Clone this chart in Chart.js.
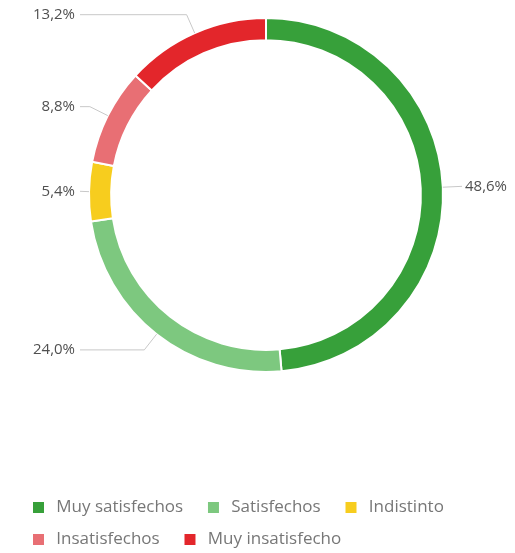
<!DOCTYPE html>
<html>
<head>
  <meta charset="utf-8" />
  <title>Satisfacción</title>
  <script src="https://cdn.jsdelivr.net/npm/chart.js@4.4.1/dist/chart.umd.min.js"></script>
  <style>
    html, body { margin: 0; padding: 0; background: #fff; }
    #wrap { width: 515px; height: 553px; }
  </style>
</head>
<body>
  <div id="wrap"><canvas id="chart"></canvas></div>
  <script>
    // data
    var categories = ["Muy satisfechos", "Satisfechos", "Indistinto", "Insatisfechos", "Muy insatisfecho"];
    var percents = [48.6, 24.0, 5.4, 8.8, 13.2];
    var colors = ["#37a03a", "#7dc87f", "#f7cd1e", "#e86f74", "#e3262b"];

    // leader lines + percent labels around the ring
    var pctLabels = {
      id: 'pctLabels',
      afterDatasetsDraw: function(chart) {
        var ctx = chart.ctx;
        var meta = chart.getDatasetMeta(0);
        var leftCol = 80, rightCol = 462;
        ctx.save();
        ctx.font = '15px "Open Sans"';
        ctx.fillStyle = '#505050';
        ctx.strokeStyle = '#c8c8c8';
        ctx.lineWidth = 1;
        ctx.textBaseline = 'middle';
        meta.data.forEach(function(arc, i) {
          var p = arc.getProps(['x', 'y', 'startAngle', 'endAngle', 'outerRadius'], true);
          var mid = (p.startAngle + p.endAngle) / 2;
          var px = p.x + Math.cos(mid) * p.outerRadius;
          var py = p.y + Math.sin(mid) * p.outerRadius;
          var ex = p.x + Math.cos(mid) * (p.outerRadius + 20);
          var ey = p.y + Math.sin(mid) * (p.outerRadius + 20);
          var right = Math.cos(mid) >= 0;
          var col = right ? rightCol : leftCol;
          ctx.beginPath();
          ctx.moveTo(px, py);
          if ((right && ex < col) || (!right && ex > col)) {
            ctx.lineTo(ex, ey);
          }
          ctx.lineTo(col, ey);
          ctx.stroke();
          var txt = percents[i].toFixed(1).replace('.', ',') + '%';
          ctx.textAlign = right ? 'left' : 'right';
          ctx.fillText(txt, right ? col + 3 : col - 5, ey);
        });
        ctx.restore();
      }
    };

    new Chart(document.getElementById('chart'), {
      type: 'doughnut',
      data: {
        labels: categories,
        datasets: [{
          data: percents,
          backgroundColor: colors,
          borderColor: '#fff',
          borderWidth: 2
        }]
      },
      options: {
        responsive: true,
        maintainAspectRatio: false,
        animation: false,
        radius: 177,
        cutout: '87.5%',
        layout: { padding: { top: 0, bottom: -5, left: 17, right: 0 } },
        plugins: {
          tooltip: { enabled: false },
          legend: {
            position: 'bottom',
            align: 'start',
            // empty title used as a spacer between ring and legend
            title: { display: true, text: '', font: { size: 10 }, padding: { top: 82, bottom: 0 } },
            labels: {
              boxWidth: 13,
              boxHeight: 13,
              padding: 15,
              color: '#777',
              font: { family: '"Open Sans"', size: 17 },
              generateLabels: function(chart) {
                var items = Chart.overrides.doughnut.plugins.legend.labels.generateLabels(chart);
                items.forEach(function(it) { it.text = '\u2009' + it.text + '  '; });
                return items;
              }
            }
          }
        }
      },
      plugins: [pctLabels]
    });
  </script>
</body>
</html>
